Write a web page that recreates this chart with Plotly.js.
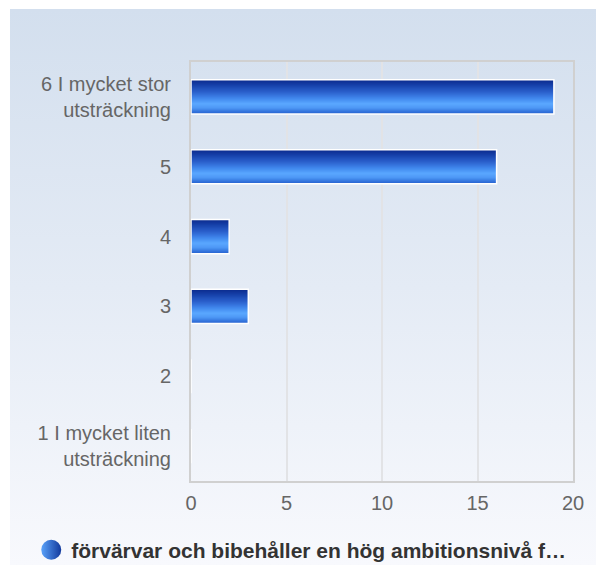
<!DOCTYPE html>
<html>
<head>
<meta charset="utf-8">
<script src="https://cdn.plot.ly/plotly-3.0.1.min.js"></script>
<style>
  html, body { margin: 0; padding: 0; background: #ffffff; }
  #wrap { position: absolute; left: 10px; top: 9px; width: 586px; height: 556px;
          background: linear-gradient(to bottom, #D3DFEE 0%, #E4EBF5 50%, #F8F9FD 100%); }
  #chart { width: 586px; height: 556px; }
</style>
</head>
<body>
<div id="wrap"><div id="chart"></div></div>
<script>
// ---- data ----
var categories = ["1 I mycket liten<br>utsträckning", "2", "3", "4", "5", "6 I mycket stor<br>utsträckning"];
var values = [0, 0, 3, 2, 16, 19];
var xTicks = [0, 5, 10, 15, 20];
var seriesName = "förvärvar och bibehåller en hög ambitionsnivå f…";

// ---- style: vertical gradient of each bar (fraction from top, colour) ----
var stops = [
  [0.00, [11, 42, 140]],
  [0.15, [22, 64, 168]],
  [0.35, [42, 95, 203]],
  [0.55, [66, 137, 238]],
  [0.70, [90, 168, 255]],
  [0.82, [78, 152, 245]],
  [0.92, [53, 118, 222]],
  [1.00, [38, 99, 206]]
];
function colAt(f) {
  for (var i = 1; i < stops.length; i++) {
    if (f <= stops[i][0]) {
      var a = stops[i-1], b = stops[i];
      var t = (f - a[0]) / (b[0] - a[0]);
      var c = a[1].map(function (v, k) { return Math.round(v + (b[1][k] - v) * t); });
      return 'rgb(' + c.join(',') + ')';
    }
  }
  return 'rgb(' + stops[stops.length-1][1].join(',') + ')';
}

var barW = 0.49;
var nBands = 34;
var traces = [];
// each band runs from its own top edge down to the bar's bottom edge;
// later (lower) bands are drawn over earlier ones -> seamless gradient
for (var i = 0; i < nBands; i++) {
  var bw = barW / nBands;
  var fTop = (i + 0.5) / nBands;           // fraction from top
  var h = barW - i * bw;
  traces.push({
    type: 'bar', orientation: 'h',
    x: values, y: categories,
    width: h,
    offset: -barW / 2,
    marker: { color: colAt(fTop), line: { width: 0 } },
    showlegend: false, hoverinfo: 'skip'
  });
}
// white outline on top
traces.push({
  type: 'bar', orientation: 'h',
  x: values, y: categories,
  width: barW,
  marker: { color: 'rgba(0,0,0,0)', line: { color: '#ffffff', width: 1.5 } },
  showlegend: false, hoverinfo: 'skip'
});
// legend entry
traces.push({
  type: 'scatter', mode: 'markers',
  x: [null], y: [null],
  name: seriesName,
  marker: { symbol: 'circle', size: 16, color: '#5AA2FA',
            gradient: { type: 'horizontal', color: '#12399C' } },
  showlegend: true, hoverinfo: 'skip'
});

var tickFont = { family: 'Liberation Sans, Arial, sans-serif', size: 20, color: '#666666' };

var layout = {
  width: 586, height: 556,
  margin: { l: 181, r: 23, t: 53, b: 84, autoexpand: false },
  paper_bgcolor: 'rgba(0,0,0,0)',
  plot_bgcolor: 'rgba(0,0,0,0)',
  barmode: 'overlay',
  showlegend: true,
  xaxis: {
    range: [0, 20], tickvals: xTicks, ticktext: xTicks.map(String),
    showgrid: true, gridcolor: '#E2E3E6', gridwidth: 2,
    showline: true, mirror: true, linecolor: '#D0D0D0', linewidth: 2,
    zeroline: false, ticks: '', ticklabelstandoff: 3,
    tickfont: tickFont, fixedrange: true, automargin: false
  },
  yaxis: {
    type: 'category', categoryorder: 'array', categoryarray: categories,
    showgrid: false,
    showline: true, mirror: true, linecolor: '#D0D0D0', linewidth: 2,
    zeroline: false, ticks: '', ticklabelstandoff: 14,
    tickfont: tickFont, fixedrange: true, automargin: false
  },
  legend: {
    orientation: 'h', x: 0.497, xanchor: 'center', xref: 'container',
    y: -0.165, yanchor: 'middle',
    bgcolor: 'rgba(0,0,0,0)',
    font: { family: 'Liberation Sans, Arial, sans-serif', size: 21, color: '#333333', weight: 'bold' },
    itemsizing: 'trace', itemwidth: 30
  }
};

Plotly.newPlot('chart', traces, layout, { displayModeBar: false, staticPlot: true }).then(function (gd) {
  gd.querySelectorAll('.legend .legendpoints .scatterpts').forEach(function (p) {
    var t = p.getAttribute('transform') || '';
    p.setAttribute('transform', t + ' scale(1.25)');
  });
});
</script>
</body>
</html>
